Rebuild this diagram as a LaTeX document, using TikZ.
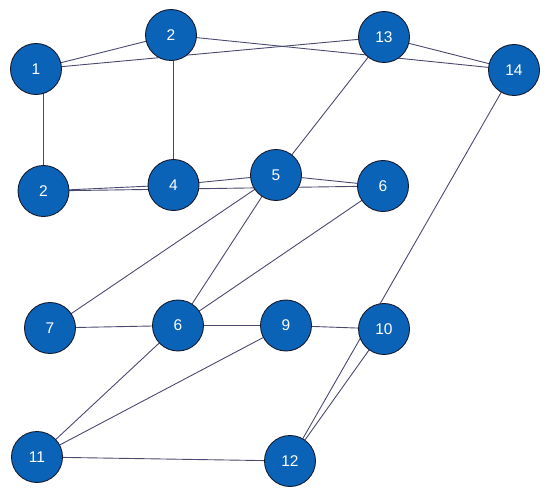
\documentclass[tikz,border=0pt]{standalone}
\usepackage{fontspec}
\setmainfont{Liberation Sans}
\definecolor{vertexblue}{HTML}{0B63B8}
\definecolor{rimdark}{HTML}{141B2E}
\definecolor{edgeslate}{HTML}{4A4A70}
\usepackage{tikz}
\usetikzlibrary{positioning, backgrounds}

\begin{document}
\begin{tikzpicture}[x=1pt, y=-1pt]
	% ------------------------------------------------------------------
	% FRAME
	% ------------------------------------------------------------------
	\useasboundingbox (0,0) rectangle (550,495);
	
	% ------------------------------------------------------------------
	% STYLE DEFINITIONS
	% ------------------------------------------------------------------
	\tikzset{
		vertex/.style = {circle, fill=vertexblue, draw=rimdark, line width=0.9pt,
			minimum size=51pt, inner sep=0pt, text=white,
			font=\fontsize{15.5}{18}\selectfont},
		link/.style   = {edgeslate, line width=0.9pt},
	}
	
	% ------------------------------------------------------------------
	% VERTICES
	% ------------------------------------------------------------------
	\node[vertex] (v1)  at (36,69)     {1};
	\node[vertex] (v2a) at (171,35)    {2};
	\node[vertex] (v13) at (384,37)    {13};
	\node[vertex] (v14) at (514,70)    {14};
	\node[vertex] (v2b) at (43.5,191)  {2};
	\node[vertex] (v4)  at (173.5,185) {4};
	\node[vertex] (v5)  at (276,175)   {5};
	\node[vertex] (v6a) at (383,186)   {6};
	\node[vertex] (v7)  at (50,328)    {7};
	\node[vertex] (v6b) at (178,325.5) {6};
	\node[vertex] (v9)  at (286,325.5) {9};
	\node[vertex] (v10) at (384,329)   {10};
	\node[vertex] (v11) at (37,457)    {11};
	\node[vertex] (v12) at (290,461)   {12};
	
	% ------------------------------------------------------------------
	% EDGES (behind the vertices)
	% ------------------------------------------------------------------
	\begin{scope}[on background layer]
		% top row
		\draw[link] (v1.center) -- (v2a.center);
		\draw[link] (v1.center) -- (v13.center);
		\draw[link] (v2a.center) -- (v14.center);
		\draw[link] (v13.center) -- (v14.center);
		% down from the top row (the two uprights stay vertical)
		\draw[link] (v2b.north) -- (v2b.north |- v1.center);
		\draw[link] (v4.north) -- (v4.north |- v2a.center);
		\draw[link] (v13.center) -- (v5.center);
		\draw[link] (v14.center) -- (v12.center);
		% middle row
		\draw[link] (v2b.center) -- (v4.center);
		\draw[link] (v2b.center) -- (v6a.center);
		\draw[link] (v4.center) -- (v5.center);
		\draw[link] (v5.center) -- (v6a.center);
		\draw[link] (v5.center) -- (v7.center);
		\draw[link] (v5.center) -- (v6b.center);
		\draw[link] (v6a.center) -- (v6b.center);
		% lower rows
		\draw[link] (v7.center) -- (v6b.center);
		\draw[link] (v6b.center) -- (v9.center);
		\draw[link] (v9.center) -- (v10.center);
		\draw[link] (v10.center) -- (v12.center);
		\draw[link] (v6b.center) -- (v11.center);
		\draw[link] (v9.center) -- (v11.center);
		\draw[link] (v11.center) -- (v12.center);
	\end{scope}
	
\end{tikzpicture}
\end{document}
